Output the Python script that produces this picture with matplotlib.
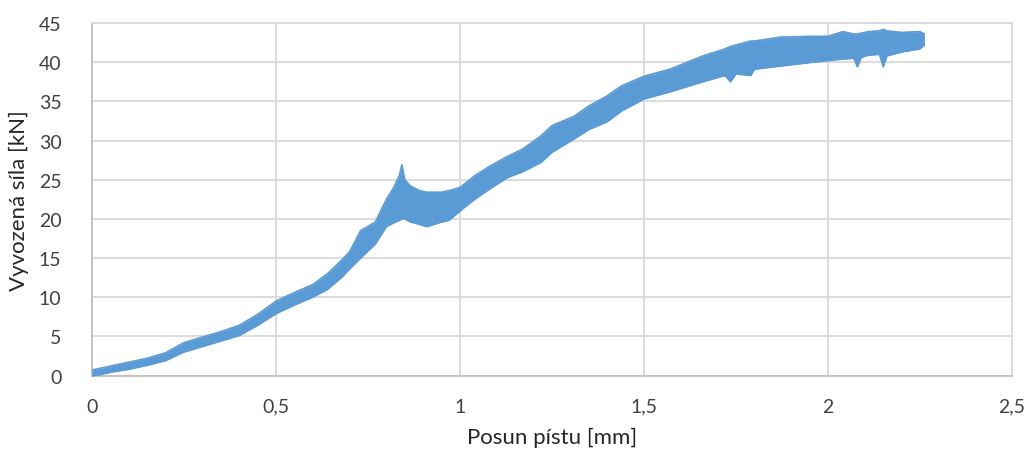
import matplotlib
matplotlib.use("Agg")
import matplotlib.pyplot as plt
from matplotlib.ticker import FuncFormatter

posun = [0.0, 0.03, 0.06, 0.1, 0.15, 0.2, 0.25, 0.3, 0.35, 0.4, 0.45, 0.5,
         0.55, 0.6, 0.64, 0.68, 0.7, 0.73, 0.77, 0.8, 0.82, 0.835, 0.842,
         0.85, 0.865, 0.89, 0.91, 0.95, 0.97, 1.0, 1.04, 1.08, 1.13, 1.17,
         1.22, 1.25, 1.31, 1.35, 1.4, 1.44, 1.5, 1.57, 1.66, 1.72, 1.735,
         1.75, 1.79, 1.8, 1.87, 1.96, 2.0, 2.04, 2.07, 2.08, 2.09, 2.11,
         2.14, 2.15, 2.16, 2.2, 2.25, 2.262]
sila_min = [-0.1, 0.2, 0.5, 0.8, 1.3, 1.9, 3.0, 3.7, 4.4, 5.1, 6.4, 7.9,
            9.0, 10.0, 11.0, 12.6, 13.6, 15.0, 16.8, 19.0, 19.5, 19.8, 20.0,
            20.0, 19.6, 19.3, 19.0, 19.6, 19.8, 21.0, 22.5, 23.8, 25.3, 26.0,
            27.2, 28.5, 30.2, 31.4, 32.4, 33.8, 35.3, 36.2, 37.5, 38.3, 37.5,
            38.5, 38.3, 39.1, 39.5, 40.0, 40.2, 40.4, 40.5, 39.4, 40.6, 40.9,
            41.0, 39.4, 40.8, 41.3, 41.7, 42.2]
sila_max = [0.7, 1.0, 1.3, 1.7, 2.2, 2.9, 4.2, 4.9, 5.6, 6.4, 7.8, 9.5,
            10.6, 11.6, 13.0, 14.8, 15.8, 18.5, 19.6, 22.5, 24.0, 25.5, 26.9,
            25.0, 24.2, 23.6, 23.4, 23.4, 23.6, 24.0, 25.5, 26.7, 28.0, 28.9,
            30.6, 31.9, 33.1, 34.4, 35.7, 37.0, 38.2, 39.1, 40.8, 41.7, 42.0,
            42.2, 42.7, 42.7, 43.2, 43.3, 43.3, 43.9, 43.6, 43.6, 43.7, 43.9,
            44.0, 44.2, 44.0, 43.8, 43.9, 43.6]

x_ticks = [0, 0.5, 1, 1.5, 2, 2.5]
y_ticks = [0, 5, 10, 15, 20, 25, 30, 35, 40, 45]

BLUE = "#5B9BD5"
GRID = "#D9D9D9"

plt.rcParams["font.family"] = ["Lato", "DejaVu Sans"]

fig = plt.figure(figsize=(10.29, 4.6), dpi=100)
ax = fig.add_axes([0.0894, 0.1815, 0.8941, 0.7663])

ax.fill_between(posun, sila_min, sila_max, color=BLUE, linewidth=0, zorder=3)
ax.plot(posun, sila_min, color=BLUE, lw=1.2, solid_capstyle="round", zorder=3)
ax.plot(posun, sila_max, color=BLUE, lw=1.2, solid_capstyle="round", zorder=3)

ax.set_xlim(0, 2.5)
ax.set_ylim(0, 45)
ax.set_xticks(x_ticks)
ax.set_yticks(y_ticks)
ax.xaxis.set_major_formatter(FuncFormatter(lambda v, p: f"{v:g}".replace(".", ",")))
ax.grid(True, color=GRID, linewidth=1.3, zorder=0)
ax.set_axisbelow(True)
ax.tick_params(length=0, labelsize=14, colors="#404040")
ax.tick_params(axis="x", pad=16)
ax.tick_params(axis="y", pad=22)
for s in ["top", "right"]:
    ax.spines[s].set_color(GRID)
    ax.spines[s].set_linewidth(1.3)
for s in ["left", "bottom"]:
    ax.spines[s].set_color("#BFBFBF")
    ax.spines[s].set_linewidth(1.3)

ax.set_xlabel("Posun pístu [mm]", fontsize=16, color="#262626", labelpad=9)
ax.set_ylabel("Vyvozená síla [kN]", fontsize=16, color="#262626", labelpad=7)

fig.savefig("out.png", dpi=100)
